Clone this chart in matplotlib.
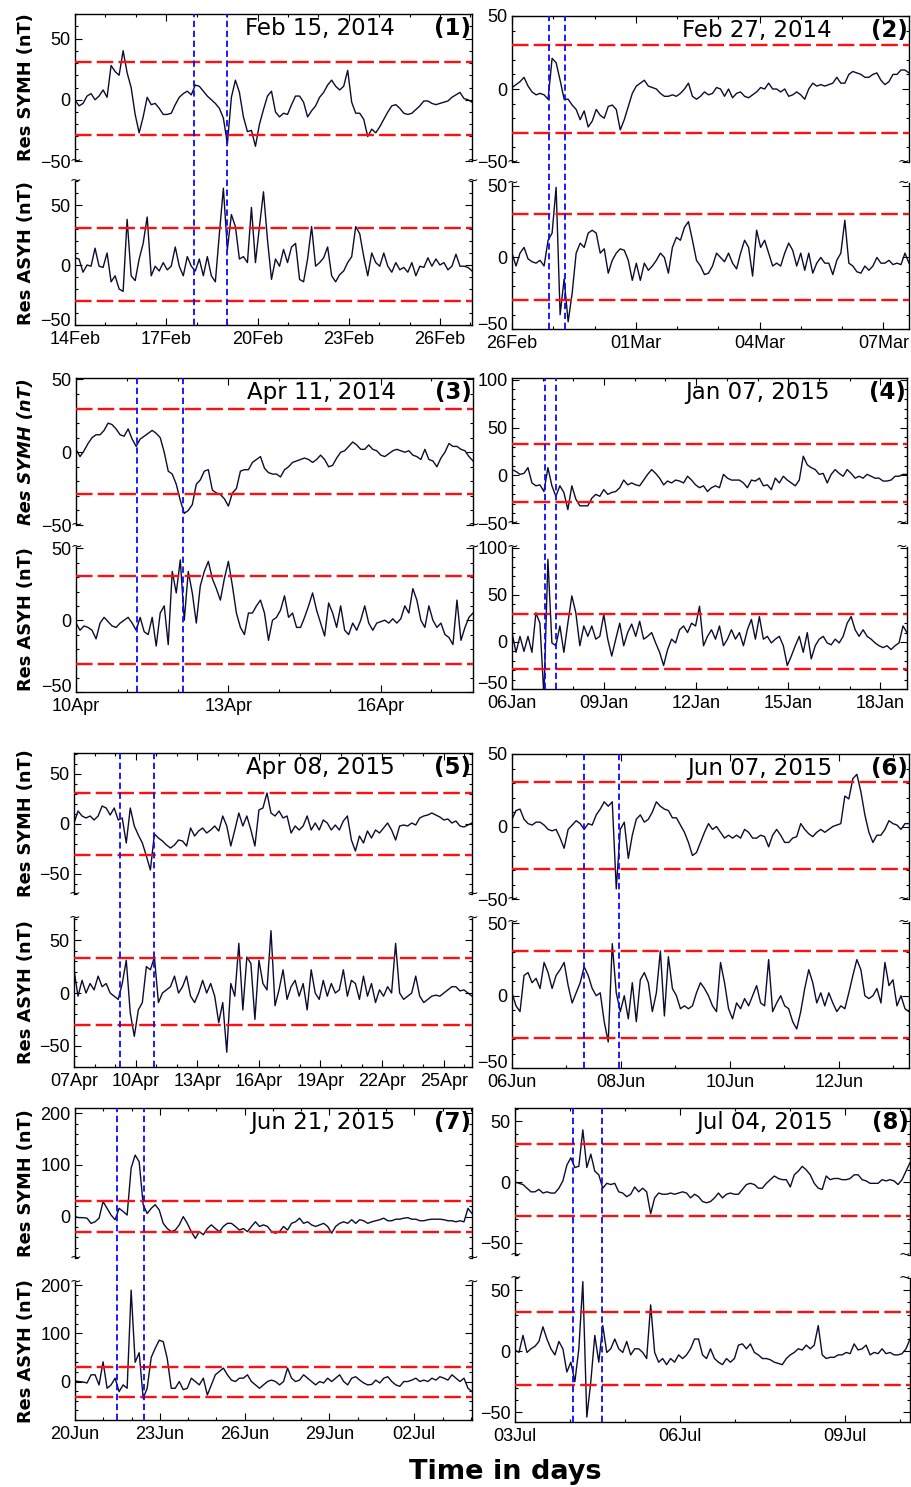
import numpy as np
import matplotlib
matplotlib.use('Agg')
import matplotlib.pyplot as plt
import matplotlib.dates as mdates
from matplotlib.ticker import FixedLocator, AutoMinorLocator
from matplotlib.transforms import ScaledTranslation
from datetime import datetime, timedelta

# ---------------- data ----------------
p1_symh = [0,-5,-3,3,5,0,3,8,2,28, 23,20,40,22,10,-12,-27,-14,2,-4,
           -3,-7,-12,-12,-11,-4,2,5,7,4, 12,11,7,3,0,-3,-7,-15,-36,2,
           16,6,-14,-26,-25,-38,-20,-8,3,7, -10,-14,-11,-12,-4,3,3,-2,-14,-9,
           -5,2,6,12,16,11,8,11,24,-2, -11,-11,-16,-30,-24,-27,-22,-16,-10,-5,
           -4,-7,-11,-12,-11,-8,-5,-1,-1,-3, -4,-3,-2,-1,2,4,6,1,0,-2]
p1_asyh = [6,5,-6,0,-1,14,-1,-2,10,-14, -9,-20,-22,38,-9,-13,5,18,40,-9,
           -1,-5,2,-4,-1,15,-1,-9,7,-1, -5,5,-9,7,-9,-14,26,64,13,42,
           32,5,7,2,48,2,32,61,21,-12, 5,-1,13,2,15,18,-12,-14,5,32,
           -1,2,6,15,-9,-14,-8,-5,2,7, 32,26,7,-9,10,2,-1,10,-1,-6,
           2,-4,-2,-6,2,-9,-1,-2,6,-1, 5,0,2,-4,-1,9,-1,-1,-2,-5]
p2_symh = [1,3,5,8,2,-2,-4,-3,-4,-7, 21,18,6,-7,-7,-11,-14,-21,-15,-26,
           -22,-14,-18,-20,-12,-11,-14,-28,-21,-12, -3,2,4,6,2,1,0,-3,-5,-5,
           -4,-5,-3,0,4,-5,-7,-5,-2,-4, -3,1,0,-5,0,-6,-3,-2,-5,-6,
           -4,-2,1,0,4,0,0,-2,0,-5, -4,-2,-4,-7,0,4,2,3,2,3,
           4,8,4,4,10,12,11,10,8,8, 10,11,6,3,5,10,10,13,13,11]
p2_asyh = [3,-6,3,7,-1,-3,-4,-2,-6,12, 17,49,-40,-15,-45,-25,3,10,7,17,
           19,17,3,6,-11,-2,3,6,5,-2, -16,-4,-16,-4,-9,-6,-2,3,0,-11,
           7,14,12,21,25,12,-2,-6,-12,-11, -6,3,0,-3,3,-4,-8,3,12,7,
           -13,19,7,12,3,-6,-4,-6,3,10, 5,-6,3,-9,3,-11,-4,0,-4,-4,
           -12,-2,3,26,-4,-6,-10,-11,-6,-9, -6,0,-4,-4,-2,-5,-4,-5,3,-4]
p3_symh = [2,-3,1,6,10,12,12,15,20,19, 16,12,11,16,9,4,9,11,13,15,
           13,10,0,-13,-15,-22,-33,-42,-40,-36, -22,-19,-13,-12,-26,-28,-29,-32,-37,-28,
           -25,-13,-12,-12,-7,-5,-3,-11,-14,-15, -15,-17,-12,-10,-7,-6,-5,-4,-5,-7,
           -5,-2,-5,-10,-9,-4,0,1,4,7, 5,2,2,5,2,1,-2,-3,-1,1,
           2,1,0,1,-2,-3,-5,2,-5,-6, -10,-4,0,6,4,4,2,1,-3,-6]
p3_asyh = [-2,-7,-4,-5,-7,-13,-2,2,-1,-4, -5,-2,0,2,-2,-7,2,-8,-10,2,
           -18,5,10,-17,34,19,42,0,34,19, -2,24,34,41,29,22,14,29,41,24,
           5,-5,-10,5,5,10,14,5,-14,0, 2,7,17,2,5,-5,-5,2,10,19,
           7,-2,-11,12,5,-5,10,-7,-10,-2, -7,0,10,-2,-7,-2,-1,0,-2,1,
           -2,1,10,5,22,14,0,-5,10,0, -5,-2,-10,-12,-17,14,-14,-5,2,5]
p4_symh = [6,4,1,2,8,-8,-11,-10,-17,8, -11,-22,-11,-18,-36,-11,-25,-32,-32,-32,
           -24,-20,-22,-15,-20,-18,-17,-13,-5,-10, -8,-10,-11,-5,1,6,2,-3,-10,-6,
           -8,-5,-6,-8,-1,-5,-10,-13,-11,-17, -13,-11,-13,1,-3,-5,-5,-5,-8,-13,
           -5,-6,-3,-11,-10,-15,-3,-8,-1,-5, -8,-11,-5,20,11,8,6,1,2,-8,
           1,6,2,-1,6,2,-3,-1,-3,1, -1,-3,-3,-6,-6,-5,-1,-1,1,1]
p4_asyh = [10,-11,6,-10,6,-11,31,20,-58,88, -1,-4,17,-11,20,49,31,-4,17,6,
           17,3,6,29,3,-15,3,20,-4,10, 19,6,22,3,6,10,-1,-11,-25,-8,
           3,-1,13,17,10,20,17,38,-4,6, 13,3,17,-4,3,13,3,10,-4,13,
           24,3,27,3,6,-1,3,6,-4,-25, -15,-4,6,-11,10,-18,-4,3,6,-1,
           -3,3,-1,6,20,27,13,6,13,6, 3,-1,-4,-6,-4,-8,-4,-1,17,10]
p5_symh = [1,13,8,6,8,4,8,18,16,9, 16,4,6,-19,16,-2,-11,-19,-32,-46,
           -10,-14,-17,-21,-24,-21,-16,-17,-22,-4, -12,-7,-4,-9,-6,-2,-7,8,-2,-22,
           -6,11,-2,8,-6,-22,14,16,31,11, 8,13,6,8,-9,-2,-6,-2,8,-6,
           1,-6,4,1,-6,-1,-6,3,8,-16, -27,-12,-19,-7,-14,-6,-9,-4,1,-6,
           -16,-2,-1,-2,1,-1,6,8,9,11, 9,7,4,5,1,3,-2,-3,-1,1]
p5_asyh = [22,-3,12,0,9,3,16,6,9,0, -3,-6,9,31,-19,-41,-16,-9,25,22,
           34,-9,0,3,6,16,0,6,16,-3, -9,0,12,0,9,-3,-28,-9,-56,9,
           -3,47,-16,34,28,-25,31,9,3,59, -12,3,22,-6,6,12,-3,9,-16,22,
           0,-6,12,-3,9,0,3,22,-3,12, 9,-6,16,-3,9,-9,3,-3,6,0,
           47,0,-6,-3,0,16,-3,-9,-6,-3, -2,-3,0,3,6,6,2,3,0,-3]
p6_symh = [5,11,12,5,2,1,3,3,1,-2, -3,-2,-8,-15,-2,1,4,2,-2,2,
           1,8,12,17,14,17,-43,-2,3,-22, -6,5,8,3,5,10,17,14,12,11,
           6,6,1,-4,-11,-20,-18,-11,-4,2, -2,0,-4,-8,-6,-8,-6,-8,-2,-4,
           -8,-8,-6,-7,-14,-6,-2,-6,-11,-11, -8,-7,2,-2,-5,-7,-4,-2,-4,-2,
           0,1,2,21,19,33,36,24,8,-4, -11,-6,-6,-2,4,2,1,-2,2,2]
p6_asyh = [2,-7,-11,14,16,9,12,5,23,16, 5,14,18,23,7,-5,2,9,20,14,
           5,0,2,-18,-32,36,2,-11,0,-16, 9,-18,11,16,9,-11,2,31,-14,27,
           5,0,-9,-7,-9,-7,2,9,5,0, -7,-11,23,9,-9,-16,-5,-9,-2,-7,
           0,7,-5,-7,25,-11,-5,0,-7,-9, -18,-23,-11,5,18,9,-5,2,-7,2,
           -5,-11,-7,-9,2,14,25,18,0,-2, 0,5,-5,23,7,11,-7,0,-9,-11]
p7_symh = [0,-2,-2,-3,-13,-10,-3,29,16,3, -6,16,10,3,94,119,106,23,6,16,
           23,13,-13,-23,-29,-26,-16,0,-13,-29, -42,-29,-35,-23,-16,-23,-29,-19,-13,-13,
           -19,-26,-23,-29,-19,-10,-19,-16,-19,-29, -32,-29,-19,-26,-13,-10,-3,-13,-10,-16,
           -19,-16,-13,-19,-32,-19,-13,-10,-13,-6, -13,-6,-8,-13,-10,-8,-6,-3,-8,-8,
           -5,-5,-3,-2,-5,-5,-8,-8,-6,-5, -5,-5,-6,-8,-8,-10,-8,-10,16,6]
p7_asyh = [1,0,-1,-3,14,14,-7,41,-14,-7, 7,-21,-7,-14,190,40,60,-35,-14,50,
           69,86,83,48,-14,-14,0,-17,-14,7, 0,-7,7,-28,-7,14,21,28,14,3,
           0,7,7,14,0,-7,-14,-7,0,3, 0,-7,0,28,7,0,3,14,7,0,
           -7,0,-3,7,0,7,14,0,-7,7, 10,3,-3,-7,-6,3,-3,7,10,0,
           -7,-10,0,0,3,7,0,3,0,7, 3,10,7,3,14,7,0,7,-14,-21]
p8_symh = [0,-1,-2,-5,-8,-8,-6,-9,-8,-9, -9,-5,1,14,20,12,13,43,12,23,
           9,6,-5,-1,-2,-1,-8,-9,-12,-10, -4,-8,-5,-8,-26,-13,-9,-10,-10,-9,
           -10,-9,-8,-9,-13,-10,-12,-16,-17,-16, -13,-9,-13,-10,-9,-10,-10,-6,-2,-1,
           -2,-5,-5,-1,2,5,3,2,2,-4, 6,9,13,10,6,-1,-5,-6,5,2,
           3,3,2,2,3,6,6,2,1,-1, -1,-1,2,1,2,1,-2,2,9,16]
p8_asyh = [1,-1,13,-1,2,4,8,20,10,2, -3,8,2,-17,-9,-25,2,57,-54,-25,
           13,-9,21,-1,2,10,2,-1,8,-3, 2,2,-1,-6,38,-1,-9,-6,-11,-6,
           -9,-3,-6,-3,2,10,10,-3,-6,2, -6,-9,-11,-6,-9,-6,5,6,2,6,
           -1,-3,-6,-6,-7,-9,-10,-11,-6,-3, -1,2,1,5,2,5,21,-3,-6,-5,
           -5,-3,-3,-1,-2,6,1,2,5,-3, -1,-2,2,-2,-1,-3,-3,-2,2,10]

titles = ['Feb 15, 2014', 'Feb 27, 2014', 'Apr 11, 2014', 'Jan 07, 2015',
          'Apr 08, 2015', 'Jun 07, 2015', 'Jun 21, 2015', 'Jul 04, 2015']
tags = ['(1)', '(2)', '(3)', '(4)', '(5)', '(6)', '(7)', '(8)']
start_dates = [(2014, 2, 14), (2014, 2, 26), (2014, 4, 10), (2015, 1, 6),
               (2015, 4, 7), (2015, 6, 6), (2015, 6, 20), (2015, 7, 3)]
span_days = [13.05, 9.62, 7.82, 12.87, 19.38, 7.29, 14.04, 7.18]
tick_step_days = [3, 3, 3, 3, 3, 2, 3, 3]
event_days = [(3.91, 5.0), (0.9, 1.29), (1.2, 2.11), (1.09, 1.44),
              (2.24, 3.9), (1.32, 1.97), (1.47, 2.45), (1.06, 1.59)]
symh_series = [p1_symh, p2_symh, p3_symh, p4_symh, p5_symh, p6_symh, p7_symh, p8_symh]
asyh_series = [p1_asyh, p2_asyh, p3_asyh, p4_asyh, p5_asyh, p6_asyh, p7_asyh, p8_asyh]
symh_thresholds = [(31, -29), (30, -30), (30, -29), (33, -28),
                   (31, -31), (31, -29), (30, -29), (31, -28)]
asyh_thresholds = [(31, -30), (30.5, -30), (30.5, -30.5), (30, -29),
                   (33, -30), (31, -29), (31, -33), (32, -28)]
symh_ylims = [(-50, 70), (-50, 50), (-50, 51), (-50, 102),
              (-70, 71), (-50, 50), (-80, 210), (-60, 61)]
asyh_ylims = [(-50, 70), (-50, 52), (-50, 51), (-50, 101),
              (-70, 71), (-50, 51), (-80, 207), (-58, 60)]
ytick_values = [[-50, 0, 50], [-50, 0, 50], [-50, 0, 50], [-50, 0, 50, 100],
                [-50, 0, 50], [-50, 0, 50], [0, 100, 200], [-50, 0, 50]]

# ---------------- layout (pixels) ----------------
W, H = 911, 1487
boxes = [(75, 472, 14, 161, 181, 325), (512, 909, 16, 162, 183, 329),
         (76, 473, 378, 525, 547, 692), (512, 907, 378, 523, 547, 689),
         (74, 472, 753, 894, 918, 1067), (512, 909, 754, 899, 922, 1068),
         (75, 472, 1108, 1258, 1282, 1420), (515, 910, 1108, 1255, 1278, 1422)]

plt.rcParams['font.family'] = ['Liberation Sans', 'DejaVu Sans']
fig = plt.figure(figsize=(W / 100, H / 100), dpi=100)

LINE_C = '#0c0c30'
RED = '#ff1010'
BLUE = '#0a0aff'


def fax(x0, x1, y0, y1):
    return fig.add_axes([x0 / W, 1 - y1 / H, (x1 - x0) / W, (y1 - y0) / H])


def squiggle(ax, y, right_edge):
    ax.text(0, y, '~', transform=ax.transAxes, ha='center', va='center',
            fontsize=10, family='DejaVu Sans', clip_on=False)
    # keep the right-hand mark inside the figure for panels at the edge
    ax.text(1, y, '~', transform=ax.transAxes, ha='right' if right_edge else 'center',
            va='center', fontsize=10, family='DejaVu Sans', clip_on=False)


for i in range(8):
    x0, x1, ty0, ty1, by0, by1 = boxes[i]
    axt = fax(x0, x1, ty0, ty1)
    axb = fax(x0, x1, by0, by1)
    start = datetime(*start_dates[i])
    span = span_days[i]
    ticks = [start + timedelta(days=d) for d in range(0, int(span) + 1, tick_step_days[i])]
    minors = [start + timedelta(days=d) for d in range(0, int(span) + 1)]
    for ax, series, thr, ylim in ((axt, symh_series[i], symh_thresholds[i], symh_ylims[i]),
                                  (axb, asyh_series[i], asyh_thresholds[i], asyh_ylims[i])):
        t = [start + timedelta(days=float(d)) for d in np.linspace(0, span, len(series))]
        ax.plot(t, series, color=LINE_C, lw=1.0, zorder=2)
        for th in thr:
            ax.axhline(th, color=RED, lw=1.7, linestyle=(0, (7, 2.2)), zorder=3)
        ax.set_xlim(start, start + timedelta(days=span))
        ax.set_ylim(*ylim)
        ax.xaxis.set_major_locator(FixedLocator(mdates.date2num(ticks)))
        ax.xaxis.set_minor_locator(FixedLocator(mdates.date2num(minors)))
        ax.xaxis.set_major_formatter(mdates.DateFormatter('%d%b'))
        ax.yaxis.set_major_locator(FixedLocator(ytick_values[i]))
        ax.yaxis.set_minor_locator(AutoMinorLocator(5))
        ax.tick_params(which='both', direction='in', labelsize=13, pad=3,
                       left=True, right=True, width=0.8)
        ax.tick_params(which='major', length=5)
        ax.tick_params(which='minor', length=2.5)
        for s in ax.spines.values():
            s.set_linewidth(1.0)
    axt.spines['bottom'].set_visible(False)
    axb.spines['top'].set_visible(False)
    axt.tick_params(axis='x', which='both', bottom=False, top=True, labelbottom=False)
    axb.tick_params(axis='x', which='both', bottom=True, top=False, pad=4)
    # lift a y label that sits on the bottom edge of the lower panel
    fig.canvas.draw()
    lo, hi = asyh_ylims[i]
    for tk, lab in zip(axb.get_yticks(), axb.get_yticklabels()):
        if abs(tk - lo) < 0.05 * (hi - lo):
            lab.set_transform(lab.get_transform() +
                              ScaledTranslation(0, 6 / 100, fig.dpi_scale_trans))
    at_edge = x1 >= 905
    squiggle(axt, 0, at_edge)
    squiggle(axb, 1, at_edge)
    # event markers spanning both subplots
    ymax = (by1 - ty0) / (by1 - by0)
    for ev in event_days[i]:
        axb.axvline(start + timedelta(days=ev), ymin=0, ymax=ymax, color=BLUE,
                    lw=1.3, linestyle=(0, (3.5, 2)), clip_on=False, zorder=5)
    # titles
    axt.text(1 - 77 / (x1 - x0), 1 - 14.5 / (ty1 - ty0), titles[i], transform=axt.transAxes,
             ha='right', va='center', fontsize=16.5, family='DejaVu Sans')
    axt.text(0.997, 1 - 14.5 / (ty1 - ty0), tags[i], transform=axt.transAxes,
             ha='right', va='center', fontsize=16.5, family='DejaVu Sans', fontweight='bold')
    if i % 2 == 0:
        style = 'italic' if i == 2 else 'normal'
        fig.text(26 / W, 1 - (ty0 + ty1) / 2 / H, 'Res SYMH (nT)', rotation=90,
                 ha='center', va='center', fontsize=12.8, family='DejaVu Sans',
                 fontweight='bold', fontstyle=style)
        fig.text(26 / W, 1 - (by0 + by1) / 2 / H, 'Res ASYH (nT)', rotation=90,
                 ha='center', va='center', fontsize=12.8, family='DejaVu Sans',
                 fontweight='bold')

fig.text(505 / W, 1 - 1472 / H, 'Time in days', ha='center', va='center',
         fontsize=19.5, family='DejaVu Sans', fontweight='bold')

fig.savefig('out.png', dpi=100)
